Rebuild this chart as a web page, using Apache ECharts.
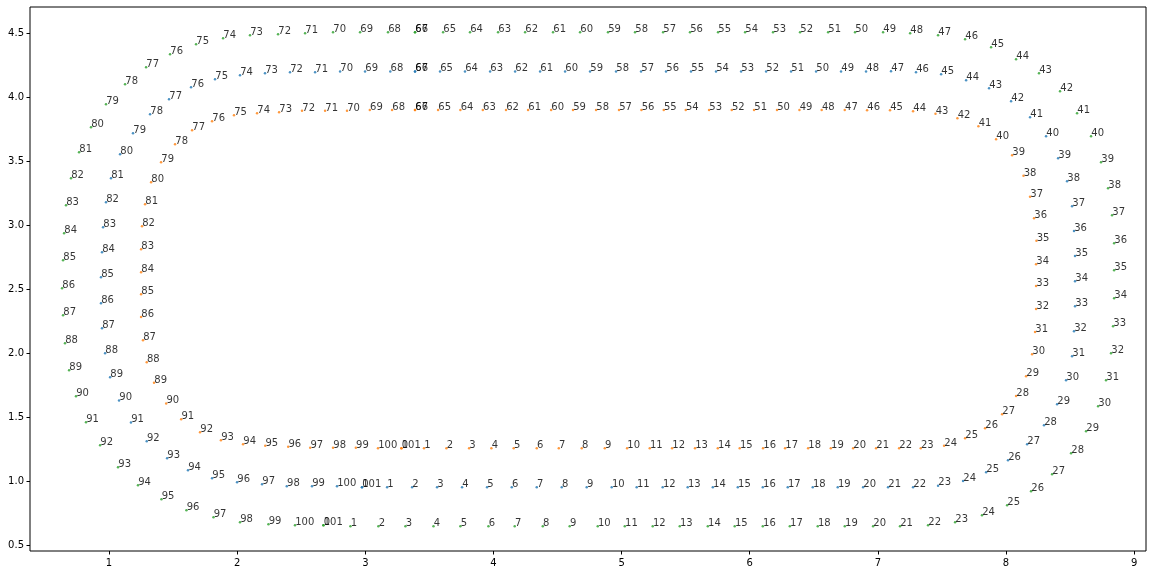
<!DOCTYPE html>
<html>
<head>
<meta charset="utf-8">
<script src="https://cdn.jsdelivr.net/npm/echarts@6/dist/echarts.min.js"></script>
<style>
html,body{margin:0;padding:0;background:#fff;}
#chart{width:1153px;height:575px;}
</style>
</head>
<body>
<div id="chart"></div>
<script>
// Point labels are the point index 0..101 (point 101 coincides with point 0, 66 with 67)
var blueX = [2.974,3.170,3.365,3.560,3.755,3.950,4.143,4.338,4.533,4.728,4.923,5.118,5.321,5.516,5.712,5.907,6.102,6.297,6.492,6.687,6.885,7.080,7.275,7.470,7.665,7.845,8.016,8.165,8.297,8.399,8.469,8.516,8.531,8.539,8.539,8.539,8.531,8.516,8.477,8.407,8.313,8.188,8.040,7.868,7.689,7.494,7.298,7.103,6.908,6.713,6.518,6.323,6.128,5.933,5.737,5.542,5.347,5.152,4.957,4.754,4.559,4.364,4.169,3.974,3.778,3.583,3.388,3.388,3.195,2.998,2.803,2.608,2.412,2.217,2.022,1.827,1.640,1.468,1.320,1.187,1.086,1.015,0.976,0.953,0.945,0.937,0.937,0.945,0.969,1.008,1.078,1.171,1.294,1.453,1.616,1.804,1.999,2.194,2.387,2.584,2.779,2.974];
var blueY = [0.953,0.953,0.953,0.953,0.953,0.953,0.953,0.953,0.953,0.953,0.953,0.953,0.953,0.953,0.953,0.953,0.953,0.953,0.953,0.953,0.953,0.953,0.953,0.966,1.002,1.070,1.164,1.289,1.438,1.602,1.789,1.977,2.172,2.367,2.562,2.760,2.955,3.148,3.344,3.523,3.695,3.844,3.969,4.070,4.133,4.180,4.195,4.203,4.202,4.202,4.202,4.202,4.202,4.202,4.202,4.202,4.202,4.202,4.202,4.202,4.202,4.202,4.202,4.202,4.202,4.202,4.202,4.202,4.202,4.202,4.202,4.195,4.195,4.187,4.172,4.141,4.078,3.984,3.867,3.719,3.555,3.367,3.180,2.984,2.789,2.594,2.391,2.195,2.000,1.812,1.631,1.459,1.312,1.180,1.086,1.023,0.992,0.977,0.961,0.961,0.961,0.953];

var orangeX = [3.282,3.458,3.633,3.810,3.984,4.158,4.338,4.510,4.689,4.869,5.043,5.220,5.394,5.573,5.751,5.922,6.104,6.276,6.456,6.633,6.807,6.986,7.166,7.335,7.517,7.681,7.837,7.970,8.079,8.157,8.204,8.227,8.235,8.235,8.235,8.238,8.219,8.188,8.137,8.048,7.923,7.785,7.621,7.450,7.275,7.095,6.916,6.742,6.562,6.388,6.213,6.034,5.860,5.683,5.501,5.329,5.155,4.980,4.801,4.621,4.450,4.270,4.098,3.917,3.742,3.568,3.388,3.388,3.209,3.035,2.857,2.686,2.506,2.327,2.155,1.975,1.804,1.648,1.515,1.406,1.328,1.281,1.257,1.250,1.250,1.250,1.250,1.265,1.294,1.351,1.446,1.563,1.710,1.873,2.046,2.219,2.398,2.570,2.748,2.926,3.099,3.282];
var orangeY = [1.258,1.258,1.258,1.258,1.258,1.258,1.258,1.258,1.258,1.258,1.258,1.258,1.258,1.258,1.258,1.258,1.258,1.258,1.258,1.258,1.258,1.258,1.258,1.258,1.278,1.336,1.414,1.523,1.666,1.820,1.992,2.166,2.346,2.526,2.695,2.880,3.055,3.223,3.387,3.547,3.672,3.773,3.836,3.872,3.891,3.898,3.898,3.900,3.900,3.900,3.900,3.900,3.900,3.900,3.900,3.900,3.900,3.900,3.900,3.900,3.900,3.900,3.900,3.900,3.900,3.900,3.900,3.900,3.900,3.900,3.894,3.894,3.894,3.883,3.875,3.859,3.812,3.742,3.633,3.492,3.336,3.164,2.992,2.812,2.633,2.461,2.284,2.102,1.930,1.770,1.608,1.484,1.383,1.320,1.289,1.278,1.270,1.262,1.262,1.262,1.258,1.258];

var greenX = [2.673,2.884,3.102,3.313,3.532,3.742,3.961,4.166,4.385,4.595,4.814,5.025,5.243,5.454,5.673,5.883,6.102,6.313,6.531,6.742,6.963,7.173,7.392,7.603,7.813,8.009,8.196,8.360,8.508,8.625,8.719,8.781,8.820,8.836,8.844,8.844,8.844,8.828,8.797,8.742,8.664,8.555,8.422,8.258,8.079,7.884,7.681,7.470,7.252,7.041,6.822,6.612,6.393,6.182,5.964,5.753,5.534,5.324,5.105,4.894,4.676,4.465,4.247,4.036,3.817,3.607,3.388,3.388,3.177,2.959,2.748,2.530,2.319,2.100,1.890,1.679,1.476,1.289,1.125,0.976,0.859,0.766,0.703,0.664,0.649,0.641,0.633,0.641,0.656,0.688,0.742,0.820,0.930,1.070,1.226,1.409,1.604,1.815,2.022,2.244,2.451,2.673];
var greenY = [0.656,0.648,0.648,0.648,0.648,0.648,0.648,0.648,0.648,0.648,0.648,0.648,0.648,0.648,0.648,0.648,0.648,0.648,0.648,0.648,0.648,0.648,0.656,0.680,0.734,0.812,0.922,1.055,1.219,1.391,1.586,1.789,2.000,2.211,2.430,2.648,2.859,3.078,3.289,3.492,3.695,3.875,4.047,4.188,4.297,4.391,4.453,4.484,4.500,4.508,4.508,4.508,4.508,4.508,4.508,4.508,4.508,4.508,4.508,4.508,4.508,4.508,4.508,4.508,4.508,4.508,4.508,4.508,4.508,4.508,4.508,4.500,4.492,4.484,4.461,4.414,4.336,4.234,4.102,3.945,3.766,3.570,3.367,3.156,2.938,2.727,2.508,2.297,2.078,1.867,1.664,1.461,1.281,1.109,0.969,0.859,0.773,0.719,0.680,0.664,0.656,0.656];

var xTicks = [1,2,3,4,5,6,7,8,9];
var yTicks = [0.5,1.0,1.5,2.0,2.5,3.0,3.5,4.0,4.5];

var FONT = 'DejaVu Sans';

function pairs(xs, ys){
  var out = [];
  for (var i = 0; i < xs.length; i++) out.push([xs[i], ys[i]]);
  return out;
}

function makeSeries(name, xs, ys, color){
  return {
    name: name,
    type: 'scatter',
    data: pairs(xs, ys),
    symbol: 'circle',
    symbolSize: 2.5,
    itemStyle: {color: color},
    silent: true,
    animation: false,
    label: {
      show: true,
      position: [1.5, 3.5],
      align: 'left',
      verticalAlign: 'bottom',
      color: '#000',
      fontFamily: FONT,
      fontSize: 10,
      formatter: function(p){ return String(p.dataIndex); }
    },
    labelLayout: {hideOverlap: false}
  };
}

var chart = echarts.init(document.getElementById('chart'), null, {renderer: 'canvas'});
chart.setOption({
  animation: false,
  backgroundColor: '#fff',
  grid: {left: 30, right: 7, top: 7, bottom: 24, show: true, borderColor: '#000', borderWidth: 1, containLabel: false},
  xAxis: {
    type: 'value', min: 0.383, max: 9.093,
    splitLine: {show: false},
    axisLine: {show: false},
    axisTick: {show: true, inside: false, length: 3.5, lineStyle: {color: '#000', width: 1}, customValues: xTicks},
    axisLabel: {show: true, color: '#000', fontFamily: FONT, fontSize: 10, margin: 7, customValues: xTicks,
      formatter: function(v){ return String(Math.round(v)); }}
  },
  yAxis: {
    type: 'value', min: 0.4555, max: 4.7055,
    splitLine: {show: false},
    axisLine: {show: false},
    axisTick: {show: true, inside: false, length: 3.5, lineStyle: {color: '#000', width: 1}, customValues: yTicks},
    axisLabel: {show: true, color: '#000', fontFamily: FONT, fontSize: 10, margin: 6, customValues: yTicks,
      formatter: function(v){ return v.toFixed(1); }}
  },
  series: [
    makeSeries('C0', blueX, blueY, '#1f77b4'),
    makeSeries('C1', orangeX, orangeY, '#ff7f0e'),
    makeSeries('C2', greenX, greenY, '#2ca02c')
  ]
});
</script>
</body>
</html>
